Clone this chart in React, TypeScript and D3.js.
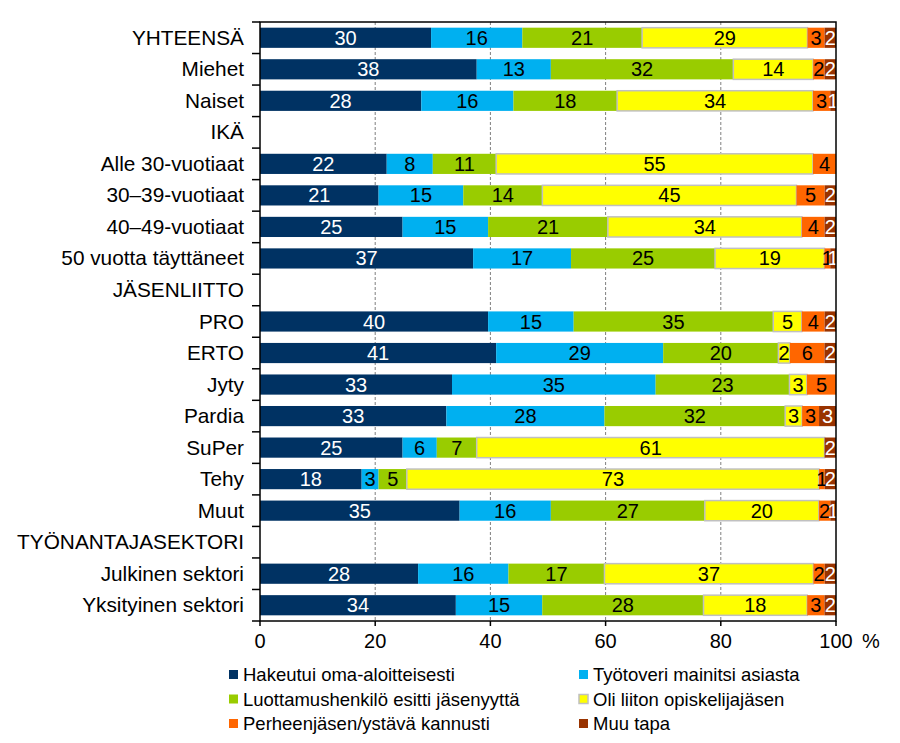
import React from 'react';
import * as d3 from 'd3';

const categories = [
  "YHTEENSÄ", "Miehet", "Naiset", "IKÄ", "Alle 30-vuotiaat", "30–39-vuotiaat",
  "40–49-vuotiaat", "50 vuotta täyttäneet", "JÄSENLIITTO", "PRO", "ERTO", "Jyty",
  "Pardia", "SuPer", "Tehy", "Muut", "TYÖNANTAJASEKTORI", "Julkinen sektori",
  "Yksityinen sektori",
];

const seriesNames = [
  "Hakeutui oma-aloitteisesti",
  "Työtoveri mainitsi asiasta",
  "Luottamushenkilö esitti jäsenyyttä",
  "Oli liiton opiskelijajäsen",
  "Perheenjäsen/ystävä kannusti",
  "Muu tapa",
];

const hakeutui = [30, 38, 28, 0, 22, 21, 25, 37, 0, 40, 41, 33, 33, 25, 18, 35, 0, 28, 34];
const tyotoveri = [16, 13, 16, 0, 8, 15, 15, 17, 0, 15, 29, 35, 28, 6, 3, 16, 0, 16, 15];
const luottamus = [21, 32, 18, 0, 11, 14, 21, 25, 0, 35, 20, 23, 32, 7, 5, 27, 0, 17, 28];
const opiskelija = [29, 14, 34, 0, 55, 45, 34, 19, 0, 5, 2, 3, 3, 61, 73, 20, 0, 37, 18];
const perhe = [3, 2, 3, 0, 4, 5, 4, 1, 0, 4, 6, 5, 3, 0, 1, 2, 0, 2, 3];
const muu = [2, 2, 1, 0, 0, 2, 2, 1, 0, 2, 2, 0, 3, 2, 2, 1, 0, 2, 2];

const xTicks = [0, 20, 40, 60, 80, 100];

const colors = ["#003263", "#00b0f0", "#99cc00", "#ffff00", "#ff6600", "#993300"];
const textColors = ["#ffffff", "#000000", "#000000", "#000000", "#000000", "#ffffff"];

const W = 900, H = 743;
const left = 260, right = 836, top = 22, bottom = 621;
const FONT = "'Liberation Sans', Arial, sans-serif";

export default function App() {
  const seriesArrays = [hakeutui, tyotoveri, luottamus, opiskelija, perhe, muu];
  const keys = seriesNames;
  const rows = categories.map((c, i) => {
    const r: any = { category: c };
    keys.forEach((k, j) => { r[k] = seriesArrays[j][i]; });
    return r;
  });
  const stacked = d3.stack<any>().keys(keys).offset(d3.stackOffsetExpand)(rows);

  const x = d3.scaleLinear().domain([0, 100]).range([left, right]);
  const y = d3.scaleBand().domain(categories).range([top, bottom]).paddingInner(0.36).paddingOuter(0.18);
  const band = (bottom - top) / categories.length;

  return (
    <div style={{ position: 'absolute', left: 0, top: 0 }}>
      <svg width={W} height={H} style={{ display: 'block', background: '#fff' }} fontFamily={FONT}>
        {xTicks.filter(t => t > 0 && t < 100).map(t => (
          <line key={t} x1={x(t)} x2={x(t)} y1={top} y2={bottom} stroke="#7f7f7f" strokeWidth={1} strokeDasharray="3,2" />
        ))}
        {stacked.map((s, j) => (
          <g key={s.key}>
            {s.map((d, i) => {
              const v = seriesArrays[j][i];
              if (!v) return null;
              const x0 = x(d[0] * 100), x1 = x(d[1] * 100);
              const yy = y(categories[i])!;
              return (
                <rect key={i} x={x0} y={yy} width={Math.max(0, x1 - x0)} height={y.bandwidth()}
                  fill={colors[j]}
                  stroke={j === 3 ? "#c0c0c0" : "none"} strokeWidth={j === 3 ? 1.5 : 0} />
              );
            })}
          </g>
        ))}
        {stacked.map((s, j) => (
          <g key={'l' + s.key}>
            {s.map((d, i) => {
              const v = seriesArrays[j][i];
              if (!v) return null;
              const cx = (x(d[0] * 100) + x(d[1] * 100)) / 2;
              const cy = y(categories[i])! + y.bandwidth() / 2;
              return (
                <text key={i} x={cx} y={cy + 7} textAnchor="middle" fontSize={20} fill={textColors[j]}>{v}</text>
              );
            })}
          </g>
        ))}
        <rect x={left} y={top} width={right - left} height={bottom - top} fill="none" stroke="#000" strokeWidth={1.5} />
        {d3.range(categories.length + 1).map(i => (
          <line key={i} x1={left - 8} x2={left} y1={top + i * band} y2={top + i * band} stroke="#000" strokeWidth={1.5} />
        ))}
        {categories.map((c, i) => (
          <text key={c} x={244} y={y(c)! + y.bandwidth() / 2 + 7} textAnchor="end" fontSize={20.8} fill="#000">{c}</text>
        ))}
        {xTicks.map(t => (
          <g key={t}>
            <line x1={x(t)} x2={x(t)} y1={bottom} y2={bottom + 5} stroke="#000" strokeWidth={1.5} />
            <text x={x(t)} y={648} textAnchor="middle" fontSize={20} fill="#000">{t}</text>
          </g>
        ))}
        <text x={862} y={648} fontSize={20} fill="#000">%</text>
        {seriesNames.map((n, j) => {
          const col = j % 2, row = Math.floor(j / 2);
          const lx = col === 0 ? 229 : 579;
          const ly = 675 + row * 24.5;
          return (
            <g key={n}>
              <rect x={lx} y={ly - 5} width={9} height={9} fill={colors[j]} stroke={j === 3 ? "#c0c0c0" : "none"} strokeWidth={1.5} />
              <text x={lx + 14} y={ly + 6} fontSize={18.5} fill="#000">{n}</text>
            </g>
          );
        })}
      </svg>
    </div>
  );
}
